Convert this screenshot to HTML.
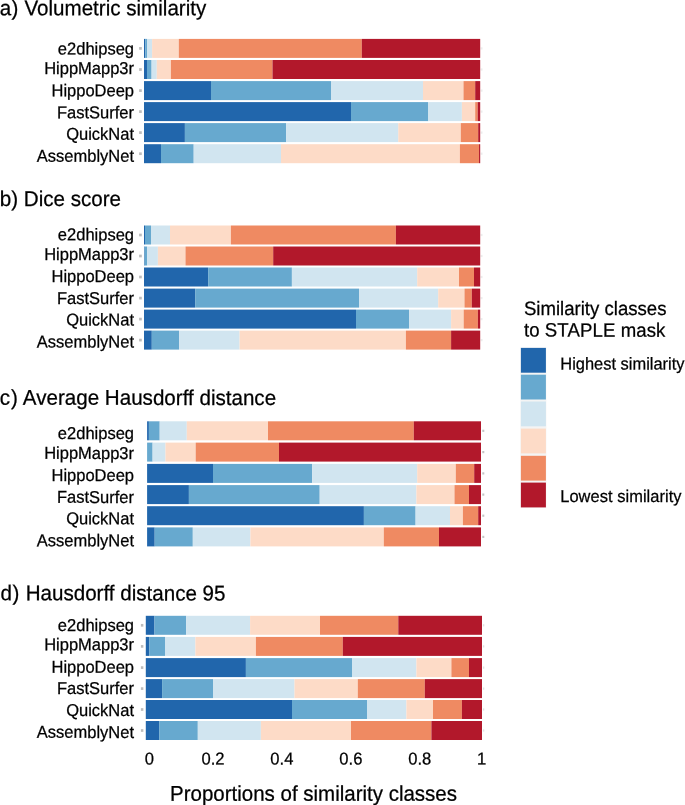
<!DOCTYPE html>
<html><head><meta charset="utf-8"><style>
html,body{margin:0;padding:0;background:#fff;}
svg{display:block;will-change:transform;}
text{font-family:"Liberation Sans",sans-serif;fill:#000;stroke:#000;stroke-width:0.25px;}
</style></head><body>
<svg width="685" height="805" viewBox="0 0 685 805">
<text transform="translate(-0.2,15.2) skewY(0.03) scale(1,1.04)" font-size="20.6">a<tspan dx="0.3">)</tspan><tspan dx="0.3"> Volumetric similarity</tspan></text>
<text transform="translate(134.0,54.6) skewY(0.03) scale(1,1.04)" font-size="16.5" text-anchor="end">e2dhipseg</text>
<rect x="139.1" y="47.05" width="2.7" height="2.7" fill="#bdbdbd"/>
<rect x="480.70" y="47.30" width="1.8" height="2.2" fill="#ececec"/>
<rect x="144" y="38.9" width="1.40" height="19" fill="#2166AC"/>
<rect x="145.4" y="38.9" width="1.60" height="19" fill="#67A9CF"/>
<rect x="147.0" y="38.9" width="5.10" height="19" fill="#D1E5F0"/>
<rect x="152.1" y="38.9" width="26.70" height="19" fill="#FDDBC7"/>
<rect x="178.8" y="38.9" width="183.00" height="19" fill="#EF8A62"/>
<rect x="361.8" y="38.9" width="118.40" height="19" fill="#B2182B"/>
<text transform="translate(134.0,74.1) skewY(0.03) scale(1,1.04)" font-size="16.5" text-anchor="end">HippMapp3r</text>
<rect x="139.1" y="68.15" width="2.7" height="2.7" fill="#bdbdbd"/>
<rect x="480.70" y="68.40" width="1.8" height="2.2" fill="#ececec"/>
<rect x="144" y="60.0" width="3.00" height="19" fill="#2166AC"/>
<rect x="147.0" y="60.0" width="4.60" height="19" fill="#67A9CF"/>
<rect x="151.6" y="60.0" width="5.20" height="19" fill="#D1E5F0"/>
<rect x="156.8" y="60.0" width="14.10" height="19" fill="#FDDBC7"/>
<rect x="170.9" y="60.0" width="101.60" height="19" fill="#EF8A62"/>
<rect x="272.5" y="60.0" width="207.70" height="19" fill="#B2182B"/>
<text transform="translate(134.0,96.2) skewY(0.03) scale(1,1.04)" font-size="16.5" text-anchor="end">HippoDeep</text>
<rect x="139.1" y="89.25" width="2.7" height="2.7" fill="#bdbdbd"/>
<rect x="480.70" y="89.50" width="1.8" height="2.2" fill="#ececec"/>
<rect x="144" y="81.1" width="67.00" height="19" fill="#2166AC"/>
<rect x="211.0" y="81.1" width="120.00" height="19" fill="#67A9CF"/>
<rect x="331" y="81.1" width="92.00" height="19" fill="#D1E5F0"/>
<rect x="423" y="81.1" width="40.50" height="19" fill="#FDDBC7"/>
<rect x="463.5" y="81.1" width="11.70" height="19" fill="#EF8A62"/>
<rect x="475.2" y="81.1" width="5.00" height="19" fill="#B2182B"/>
<text transform="translate(134.0,118.3) skewY(0.03) scale(1,1.04)" font-size="16.5" text-anchor="end">FastSurfer</text>
<rect x="139.1" y="110.25" width="2.7" height="2.7" fill="#bdbdbd"/>
<rect x="480.70" y="110.50" width="1.8" height="2.2" fill="#ececec"/>
<rect x="144" y="102.1" width="207.00" height="19" fill="#2166AC"/>
<rect x="351" y="102.1" width="77.30" height="19" fill="#67A9CF"/>
<rect x="428.3" y="102.1" width="33.60" height="19" fill="#D1E5F0"/>
<rect x="461.9" y="102.1" width="13.30" height="19" fill="#FDDBC7"/>
<rect x="475.2" y="102.1" width="2.50" height="19" fill="#EF8A62"/>
<rect x="477.7" y="102.1" width="2.50" height="19" fill="#B2182B"/>
<text transform="translate(134.0,139.8) skewY(0.03) scale(1,1.04)" font-size="16.5" text-anchor="end">QuickNat</text>
<rect x="139.1" y="131.25" width="2.7" height="2.7" fill="#bdbdbd"/>
<rect x="480.70" y="131.50" width="1.8" height="2.2" fill="#ececec"/>
<rect x="144" y="123.1" width="40.90" height="19" fill="#2166AC"/>
<rect x="184.9" y="123.1" width="101.30" height="19" fill="#67A9CF"/>
<rect x="286.2" y="123.1" width="112.10" height="19" fill="#D1E5F0"/>
<rect x="398.3" y="123.1" width="62.50" height="19" fill="#FDDBC7"/>
<rect x="460.8" y="123.1" width="17.40" height="19" fill="#EF8A62"/>
<rect x="478.2" y="123.1" width="2.00" height="19" fill="#B2182B"/>
<text transform="translate(134.0,161.7) skewY(0.03) scale(1,1.04)" font-size="16.5" text-anchor="end">AssemblyNet</text>
<rect x="139.1" y="152.35" width="2.7" height="2.7" fill="#bdbdbd"/>
<rect x="480.70" y="152.60" width="1.8" height="2.2" fill="#ececec"/>
<rect x="144" y="144.2" width="17.00" height="19" fill="#2166AC"/>
<rect x="161" y="144.2" width="32.70" height="19" fill="#67A9CF"/>
<rect x="193.7" y="144.2" width="87.30" height="19" fill="#D1E5F0"/>
<rect x="281" y="144.2" width="178.90" height="19" fill="#FDDBC7"/>
<rect x="459.9" y="144.2" width="19.15" height="19" fill="#EF8A62"/>
<rect x="479.05" y="144.2" width="1.15" height="19" fill="#B2182B"/>
<text transform="translate(-0.2,206) skewY(0.03) scale(1,1.04)" font-size="20.6">b<tspan dx="0">)</tspan><tspan dx="0"> Dice score</tspan></text>
<text transform="translate(134.0,240.4) skewY(0.03) scale(1,1.04)" font-size="16.5" text-anchor="end">e2dhipseg</text>
<rect x="139.1" y="233.65" width="2.7" height="2.7" fill="#bdbdbd"/>
<rect x="480.70" y="233.90" width="1.8" height="2.2" fill="#ececec"/>
<rect x="144" y="225.5" width="1.00" height="19" fill="#2166AC"/>
<rect x="145" y="225.5" width="6.00" height="19" fill="#67A9CF"/>
<rect x="151" y="225.5" width="19.00" height="19" fill="#D1E5F0"/>
<rect x="170" y="225.5" width="60.90" height="19" fill="#FDDBC7"/>
<rect x="230.9" y="225.5" width="165.00" height="19" fill="#EF8A62"/>
<rect x="395.9" y="225.5" width="84.30" height="19" fill="#B2182B"/>
<text transform="translate(134.0,260.1) skewY(0.03) scale(1,1.04)" font-size="16.5" text-anchor="end">HippMapp3r</text>
<rect x="139.1" y="254.65" width="2.7" height="2.7" fill="#bdbdbd"/>
<rect x="480.70" y="254.90" width="1.8" height="2.2" fill="#ececec"/>
<rect x="144" y="246.5" width="0.60" height="19" fill="#2166AC"/>
<rect x="144.6" y="246.5" width="2.50" height="19" fill="#67A9CF"/>
<rect x="147.1" y="246.5" width="10.80" height="19" fill="#D1E5F0"/>
<rect x="157.9" y="246.5" width="27.60" height="19" fill="#FDDBC7"/>
<rect x="185.5" y="246.5" width="87.70" height="19" fill="#EF8A62"/>
<rect x="273.2" y="246.5" width="207.00" height="19" fill="#B2182B"/>
<text transform="translate(134.0,282.1) skewY(0.03) scale(1,1.04)" font-size="16.5" text-anchor="end">HippoDeep</text>
<rect x="139.1" y="275.65" width="2.7" height="2.7" fill="#bdbdbd"/>
<rect x="480.70" y="275.90" width="1.8" height="2.2" fill="#ececec"/>
<rect x="144" y="267.5" width="64.20" height="19" fill="#2166AC"/>
<rect x="208.2" y="267.5" width="83.70" height="19" fill="#67A9CF"/>
<rect x="291.9" y="267.5" width="125.30" height="19" fill="#D1E5F0"/>
<rect x="417.2" y="267.5" width="41.80" height="19" fill="#FDDBC7"/>
<rect x="459" y="267.5" width="15.00" height="19" fill="#EF8A62"/>
<rect x="474" y="267.5" width="6.20" height="19" fill="#B2182B"/>
<text transform="translate(134.0,304.1) skewY(0.03) scale(1,1.04)" font-size="16.5" text-anchor="end">FastSurfer</text>
<rect x="139.1" y="296.75" width="2.7" height="2.7" fill="#bdbdbd"/>
<rect x="480.70" y="297.00" width="1.8" height="2.2" fill="#ececec"/>
<rect x="144" y="288.6" width="51.20" height="19" fill="#2166AC"/>
<rect x="195.2" y="288.6" width="163.80" height="19" fill="#67A9CF"/>
<rect x="359.0" y="288.6" width="79.20" height="19" fill="#D1E5F0"/>
<rect x="438.2" y="288.6" width="26.30" height="19" fill="#FDDBC7"/>
<rect x="464.5" y="288.6" width="7.30" height="19" fill="#EF8A62"/>
<rect x="471.8" y="288.6" width="8.40" height="19" fill="#B2182B"/>
<text transform="translate(134.0,325.6) skewY(0.03) scale(1,1.04)" font-size="16.5" text-anchor="end">QuickNat</text>
<rect x="139.1" y="317.75" width="2.7" height="2.7" fill="#bdbdbd"/>
<rect x="480.70" y="318.00" width="1.8" height="2.2" fill="#ececec"/>
<rect x="144" y="309.6" width="212.00" height="19" fill="#2166AC"/>
<rect x="356" y="309.6" width="53.00" height="19" fill="#67A9CF"/>
<rect x="409" y="309.6" width="42.10" height="19" fill="#D1E5F0"/>
<rect x="451.1" y="309.6" width="12.60" height="19" fill="#FDDBC7"/>
<rect x="463.7" y="309.6" width="14.20" height="19" fill="#EF8A62"/>
<rect x="477.9" y="309.6" width="2.30" height="19" fill="#B2182B"/>
<text transform="translate(134.0,347.6) skewY(0.03) scale(1,1.04)" font-size="16.5" text-anchor="end">AssemblyNet</text>
<rect x="139.1" y="338.75" width="2.7" height="2.7" fill="#bdbdbd"/>
<rect x="480.70" y="339.00" width="1.8" height="2.2" fill="#ececec"/>
<rect x="144" y="330.6" width="7.80" height="19" fill="#2166AC"/>
<rect x="151.8" y="330.6" width="27.30" height="19" fill="#67A9CF"/>
<rect x="179.1" y="330.6" width="60.50" height="19" fill="#D1E5F0"/>
<rect x="239.6" y="330.6" width="166.30" height="19" fill="#FDDBC7"/>
<rect x="405.9" y="330.6" width="45.20" height="19" fill="#EF8A62"/>
<rect x="451.1" y="330.6" width="29.10" height="19" fill="#B2182B"/>
<text transform="translate(-0.2,404.8) skewY(0.03) scale(1,1.04)" font-size="20.6">c<tspan dx="0.8">)</tspan><tspan dx="0.5"> Average Hausdorff distance</tspan></text>
<text transform="translate(134.0,439.0) skewY(0.03) scale(1,1.04)" font-size="16.5" text-anchor="end">e2dhipseg</text>
<rect x="482.30" y="429.70" width="2.0" height="2.2" fill="#c4c4c4"/>
<rect x="147.1" y="421.3" width="1.80" height="19" fill="#2166AC"/>
<rect x="148.9" y="421.3" width="10.80" height="19" fill="#67A9CF"/>
<rect x="159.7" y="421.3" width="27.10" height="19" fill="#D1E5F0"/>
<rect x="186.8" y="421.3" width="81.20" height="19" fill="#FDDBC7"/>
<rect x="268" y="421.3" width="145.80" height="19" fill="#EF8A62"/>
<rect x="413.8" y="421.3" width="67.20" height="19" fill="#B2182B"/>
<text transform="translate(134.0,458.9) skewY(0.03) scale(1,1.04)" font-size="16.5" text-anchor="end">HippMapp3r</text>
<rect x="482.30" y="451.00" width="2.0" height="2.2" fill="#c4c4c4"/>
<rect x="147.1" y="442.6" width="5.50" height="19" fill="#67A9CF"/>
<rect x="152.6" y="442.6" width="12.90" height="19" fill="#D1E5F0"/>
<rect x="165.5" y="442.6" width="30.20" height="19" fill="#FDDBC7"/>
<rect x="195.7" y="442.6" width="83.30" height="19" fill="#EF8A62"/>
<rect x="279" y="442.6" width="202.00" height="19" fill="#B2182B"/>
<text transform="translate(134.0,481.1) skewY(0.03) scale(1,1.04)" font-size="16.5" text-anchor="end">HippoDeep</text>
<rect x="482.30" y="472.30" width="2.0" height="2.2" fill="#c4c4c4"/>
<rect x="147.1" y="463.9" width="65.90" height="19" fill="#2166AC"/>
<rect x="213" y="463.9" width="99.10" height="19" fill="#67A9CF"/>
<rect x="312.1" y="463.9" width="105.10" height="19" fill="#D1E5F0"/>
<rect x="417.2" y="463.9" width="38.60" height="19" fill="#FDDBC7"/>
<rect x="455.8" y="463.9" width="18.40" height="19" fill="#EF8A62"/>
<rect x="474.2" y="463.9" width="6.80" height="19" fill="#B2182B"/>
<text transform="translate(134.0,502.9) skewY(0.03) scale(1,1.04)" font-size="16.5" text-anchor="end">FastSurfer</text>
<rect x="482.30" y="493.50" width="2.0" height="2.2" fill="#c4c4c4"/>
<rect x="147.1" y="485.1" width="41.80" height="19" fill="#2166AC"/>
<rect x="188.9" y="485.1" width="130.80" height="19" fill="#67A9CF"/>
<rect x="319.7" y="485.1" width="96.70" height="19" fill="#D1E5F0"/>
<rect x="416.4" y="485.1" width="38.10" height="19" fill="#FDDBC7"/>
<rect x="454.5" y="485.1" width="14.50" height="19" fill="#EF8A62"/>
<rect x="469" y="485.1" width="12.00" height="19" fill="#B2182B"/>
<text transform="translate(134.0,524.3) skewY(0.03) scale(1,1.04)" font-size="16.5" text-anchor="end">QuickNat</text>
<rect x="482.30" y="514.60" width="2.0" height="2.2" fill="#c4c4c4"/>
<rect x="147.1" y="506.2" width="216.80" height="19" fill="#2166AC"/>
<rect x="363.9" y="506.2" width="51.70" height="19" fill="#67A9CF"/>
<rect x="415.6" y="506.2" width="34.40" height="19" fill="#D1E5F0"/>
<rect x="450" y="506.2" width="12.90" height="19" fill="#FDDBC7"/>
<rect x="462.9" y="506.2" width="15.30" height="19" fill="#EF8A62"/>
<rect x="478.2" y="506.2" width="2.80" height="19" fill="#B2182B"/>
<text transform="translate(134.0,546.2) skewY(0.03) scale(1,1.04)" font-size="16.5" text-anchor="end">AssemblyNet</text>
<rect x="482.30" y="535.80" width="2.0" height="2.2" fill="#c4c4c4"/>
<rect x="147.1" y="527.4" width="7.60" height="19" fill="#2166AC"/>
<rect x="154.7" y="527.4" width="38.10" height="19" fill="#67A9CF"/>
<rect x="192.8" y="527.4" width="57.60" height="19" fill="#D1E5F0"/>
<rect x="250.4" y="527.4" width="133.40" height="19" fill="#FDDBC7"/>
<rect x="383.8" y="527.4" width="55.20" height="19" fill="#EF8A62"/>
<rect x="439" y="527.4" width="42.00" height="19" fill="#B2182B"/>
<text transform="translate(0.4,600.3) skewY(0.03) scale(1,1.04)" font-size="20.6">d<tspan dx="0.6">)</tspan><tspan dx="0.6"> Hausdorff distance 95</tspan></text>
<text transform="translate(134.0,631.1) skewY(0.03) scale(1,1.04)" font-size="16.5" text-anchor="end">e2dhipseg</text>
<rect x="140.9" y="623.95" width="2.45" height="2.7" fill="#bdbdbd"/>
<rect x="482.90" y="624.20" width="1.4" height="2.2" fill="#e2e2e2"/>
<rect x="145.8" y="615.8" width="8.70" height="19" fill="#2166AC"/>
<rect x="154.5" y="615.8" width="31.70" height="19" fill="#67A9CF"/>
<rect x="186.2" y="615.8" width="63.90" height="19" fill="#D1E5F0"/>
<rect x="250.1" y="615.8" width="69.90" height="19" fill="#FDDBC7"/>
<rect x="320" y="615.8" width="78.30" height="19" fill="#EF8A62"/>
<rect x="398.3" y="615.8" width="83.70" height="19" fill="#B2182B"/>
<text transform="translate(134.0,650.3) skewY(0.03) scale(1,1.04)" font-size="16.5" text-anchor="end">HippMapp3r</text>
<rect x="140.9" y="645.05" width="2.45" height="2.7" fill="#bdbdbd"/>
<rect x="482.90" y="645.30" width="1.4" height="2.2" fill="#e2e2e2"/>
<rect x="145.8" y="636.9" width="3.40" height="19" fill="#2166AC"/>
<rect x="149.2" y="636.9" width="15.80" height="19" fill="#67A9CF"/>
<rect x="165" y="636.9" width="30.40" height="19" fill="#D1E5F0"/>
<rect x="195.4" y="636.9" width="60.50" height="19" fill="#FDDBC7"/>
<rect x="255.9" y="636.9" width="86.90" height="19" fill="#EF8A62"/>
<rect x="342.8" y="636.9" width="139.20" height="19" fill="#B2182B"/>
<text transform="translate(134.0,672.7) skewY(0.03) scale(1,1.04)" font-size="16.5" text-anchor="end">HippoDeep</text>
<rect x="140.9" y="666.25" width="2.45" height="2.7" fill="#bdbdbd"/>
<rect x="482.90" y="666.50" width="1.4" height="2.2" fill="#e2e2e2"/>
<rect x="145.8" y="658.1" width="100.10" height="19" fill="#2166AC"/>
<rect x="245.9" y="658.1" width="106.10" height="19" fill="#67A9CF"/>
<rect x="352" y="658.1" width="64.40" height="19" fill="#D1E5F0"/>
<rect x="416.4" y="658.1" width="35.00" height="19" fill="#FDDBC7"/>
<rect x="451.4" y="658.1" width="17.60" height="19" fill="#EF8A62"/>
<rect x="469" y="658.1" width="13.00" height="19" fill="#B2182B"/>
<text transform="translate(134.0,694.1) skewY(0.03) scale(1,1.04)" font-size="16.5" text-anchor="end">FastSurfer</text>
<rect x="140.9" y="687.25" width="2.45" height="2.7" fill="#bdbdbd"/>
<rect x="482.90" y="687.50" width="1.4" height="2.2" fill="#e2e2e2"/>
<rect x="145.8" y="679.1" width="16.30" height="19" fill="#2166AC"/>
<rect x="162.1" y="679.1" width="50.90" height="19" fill="#67A9CF"/>
<rect x="213" y="679.1" width="81.50" height="19" fill="#D1E5F0"/>
<rect x="294.5" y="679.1" width="63.30" height="19" fill="#FDDBC7"/>
<rect x="357.8" y="679.1" width="67.00" height="19" fill="#EF8A62"/>
<rect x="424.8" y="679.1" width="57.20" height="19" fill="#B2182B"/>
<text transform="translate(134.0,716.1) skewY(0.03) scale(1,1.04)" font-size="16.5" text-anchor="end">QuickNat</text>
<rect x="140.9" y="708.15" width="2.45" height="2.7" fill="#bdbdbd"/>
<rect x="482.90" y="708.40" width="1.4" height="2.2" fill="#e2e2e2"/>
<rect x="145.8" y="700" width="146.20" height="19" fill="#2166AC"/>
<rect x="292.0" y="700" width="75.00" height="19" fill="#67A9CF"/>
<rect x="367" y="700" width="39.40" height="19" fill="#D1E5F0"/>
<rect x="406.4" y="700" width="26.60" height="19" fill="#FDDBC7"/>
<rect x="433" y="700" width="28.90" height="19" fill="#EF8A62"/>
<rect x="461.9" y="700" width="20.10" height="19" fill="#B2182B"/>
<text transform="translate(134.0,737.9) skewY(0.03) scale(1,1.04)" font-size="16.5" text-anchor="end">AssemblyNet</text>
<rect x="140.9" y="729.15" width="2.45" height="2.7" fill="#bdbdbd"/>
<rect x="482.90" y="729.40" width="1.4" height="2.2" fill="#e2e2e2"/>
<rect x="145.8" y="721" width="13.40" height="19" fill="#2166AC"/>
<rect x="159.2" y="721" width="38.60" height="19" fill="#67A9CF"/>
<rect x="197.8" y="721" width="63.10" height="19" fill="#D1E5F0"/>
<rect x="260.9" y="721" width="90.10" height="19" fill="#FDDBC7"/>
<rect x="351" y="721" width="80.40" height="19" fill="#EF8A62"/>
<rect x="431.4" y="721" width="50.60" height="19" fill="#B2182B"/>
<rect x="520.3" y="347.4" width="26.1" height="160.5" fill="#f4f4f4"/>
<rect x="520.9" y="347.9" width="25" height="24.8" fill="#2166AC"/>
<rect x="520.9" y="374.7" width="25" height="24.8" fill="#67A9CF"/>
<rect x="520.9" y="401.5" width="25" height="24.8" fill="#D1E5F0"/>
<rect x="520.9" y="428.6" width="25" height="24.8" fill="#FDDBC7"/>
<rect x="520.9" y="455.8" width="25" height="24.8" fill="#EF8A62"/>
<rect x="520.9" y="482.6" width="25" height="24.8" fill="#B2182B"/>
<text transform="translate(523.9,314.9) skewY(0.03) scale(1,1.04)" font-size="18.6">Similarity classes</text>
<text transform="translate(523.9,336.6) skewY(0.03) scale(1,1.04)" font-size="18.6" letter-spacing="0.1">to STAPLE mask</text>
<text transform="translate(560.3,369.4) skewY(0.03) scale(1,1.04)" font-size="16.45">Highest similarity</text>
<text transform="translate(560.2,502) skewY(0.03) scale(1,1.04)" font-size="16.45" letter-spacing="0.05">Lowest similarity</text>
<text transform="translate(149.4,764.4) skewY(0.03) scale(1,1.04)" font-size="16.6" text-anchor="middle">0</text>
<text transform="translate(213,764.4) skewY(0.03) scale(1,1.04)" font-size="16.6" text-anchor="middle">0.2</text>
<text transform="translate(281.9,764.4) skewY(0.03) scale(1,1.04)" font-size="16.6" text-anchor="middle">0.4</text>
<text transform="translate(350.9,764.4) skewY(0.03) scale(1,1.04)" font-size="16.6" text-anchor="middle">0.6</text>
<text transform="translate(419.8,764.4) skewY(0.03) scale(1,1.04)" font-size="16.6" text-anchor="middle">0.8</text>
<text transform="translate(481.5,764.4) skewY(0.03) scale(1,1.04)" font-size="16.6" text-anchor="middle">1</text>
<text transform="translate(170,800.7) skewY(0.03) scale(1,1.04)" font-size="20.5">Proportions of similarity classes</text>
</svg>
</body></html>
